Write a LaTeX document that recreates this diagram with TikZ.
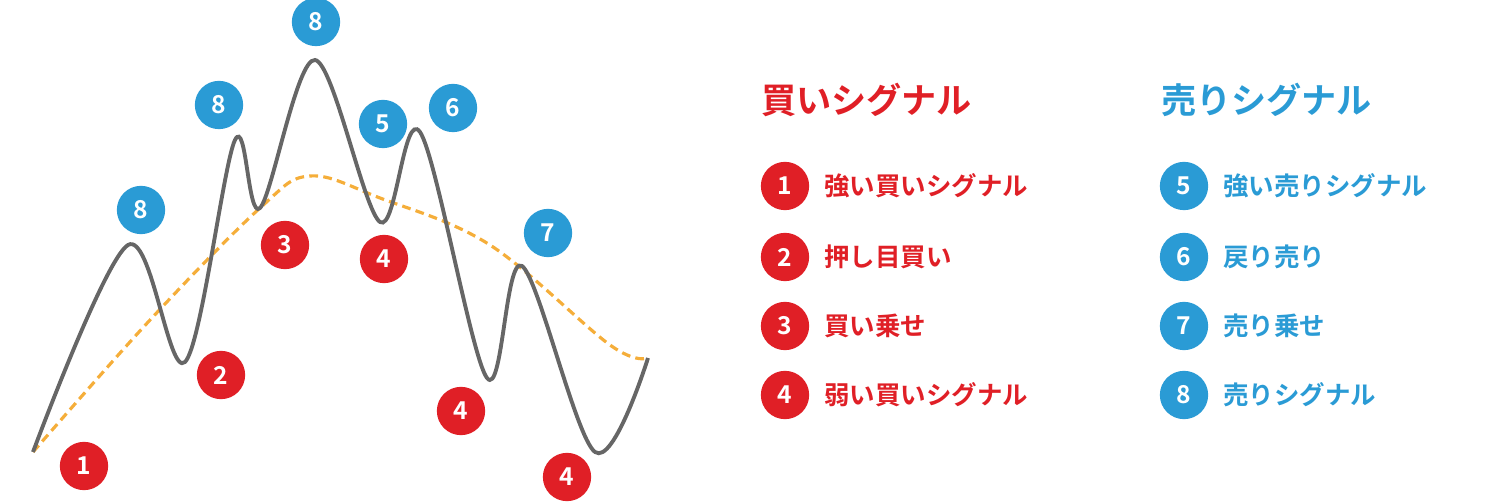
\documentclass[tikz,border=0pt]{standalone}
\usepackage{fontspec}
\newfontfamily\jp{Noto Sans CJK JP Bold}
\definecolor{rd}{HTML}{E01F26}
\definecolor{bl}{HTML}{2A9BD5}
\definecolor{gr}{HTML}{666666}
\definecolor{og}{HTML}{F5AE3A}
\begin{document}
\begin{tikzpicture}[x=0.02cm,y=-0.02cm,
  dot/.style={circle,minimum size=27.5pt,inner sep=0pt,text=white,font=\jp\fontsize{14}{14}\selectfont},
  rdot/.style={dot,fill=rd},bdot/.style={dot,fill=bl},
  head/.style={anchor=west,font=\jp\fontsize{20}{20}\selectfont},
  item/.style={anchor=west,font=\jp\fontsize{14.5}{14.5}\selectfont}]
\useasboundingbox (0,0) rectangle (1500,502);
\draw[og,line width=1.8pt,dashed,dash pattern=on 5pt off 3pt] plot[smooth,tension=0.6] coordinates{(33,452) (150,320) (260,208) (310,176) (380,198) (490,245) (610,345) (648,358)};
\draw[gr,line width=2.2pt] plot[smooth,tension=0.55] coordinates{(33,452) (128,245) (185,362) (235,140) (260,208) (315,60) (380,222) (420,132) (487,378) (522,266) (595,452) (648,358)};
\node[rdot] (r1) at (84,466) {1};
\node[rdot] (r2) at (221,375) {2};
\node[rdot] (r3) at (285,245) {3};
\node[rdot] (r4a) at (384,259) {4};
\node[rdot] (r4b) at (461,411) {4};
\node[rdot] (r4c) at (567,477) {4};
\node[bdot] (b8a) at (141,210) {8};
\node[bdot] (b8b) at (219,105) {8};
\node[bdot] (b8c) at (316,22) {8};
\node[bdot] (b5) at (383,124) {5};
\node[bdot] (b6) at (453,108) {6};
\node[bdot] (b7) at (548,233) {7};
\node[head,text=rd] (hb) at (755,100) {買いシグナル};
\node[head,text=bl] (hs) at (1155,100) {売りシグナル};
\foreach \y/\n/\t [count=\i] in {186/1/強い買いシグナル,257/2/押し目買い,326/3/買い乗せ,395/4/弱い買いシグナル}{
  \node[rdot] (lr\i) at (785,\y) {\n};
  \node[item,text=rd] (tr\i) at (818,\y) {\t};}
\foreach \y/\n/\t [count=\i] in {186/5/強い売りシグナル,257/6/戻り売り,326/7/売り乗せ,395/8/売りシグナル}{
  \node[bdot] (lb\i) at (1184,\y) {\n};
  \node[item,text=bl] (tb\i) at (1217,\y) {\t};}
\end{tikzpicture}
\end{document}
